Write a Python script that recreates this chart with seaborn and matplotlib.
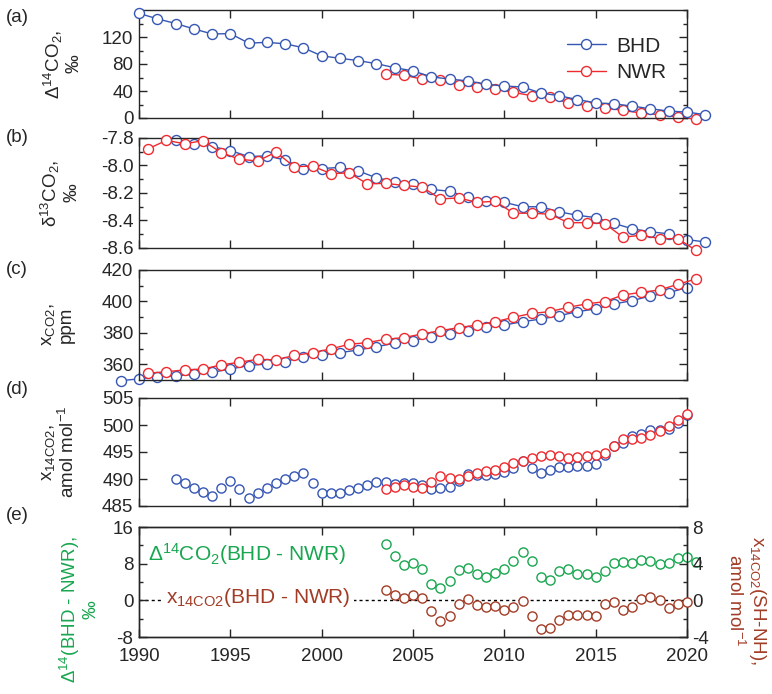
import numpy as np
import matplotlib
matplotlib.use("Agg")
import matplotlib.pyplot as plt
import seaborn as sns
from matplotlib.ticker import MultipleLocator

# ==============================================================================
# DATA
# ==============================================================================
# (a) D14CO2, permil
a_bhd_year = np.arange(1990, 2022)
a_bhd = [155, 147, 140, 132, 124.5, 125, 111, 112, 110, 104, 92, 88.5, 85, 80.5,
         74.5, 69.8, 61, 57.6, 55, 50, 47.3, 46, 37, 33, 27.3, 22.4, 21, 17.6,
         13.7, 10.2, 8.8, 4.9]
a_nwr_year = np.arange(2003.5, 2021.0, 1.0)
a_nwr = [64.9, 63.4, 57.6, 56, 49.3, 46.3, 42.9, 38, 33, 30.7, 22.4, 18.5, 15.1,
         11.2, 7.3, 4.9, 1.5, -2]

# (b) d13CO2, permil
b_bhd_year = np.arange(1992, 2022)
b_bhd = [-7.812, -7.842, -7.862, -7.891, -7.935, -7.93, -7.96, -8.022, -8.022,
         -8.014, -8.039, -8.09, -8.117, -8.137, -8.174, -8.187, -8.231, -8.256,
         -8.268, -8.3, -8.3, -8.337, -8.362, -8.379, -8.421, -8.46, -8.482,
         -8.497, -8.539, -8.556]
b_nwr_year = np.arange(1990.5, 2021.0, 1.0)
b_nwr = [-7.879, -7.817, -7.842, -7.82, -7.906, -7.955, -7.967, -7.903, -8.009,
         -8.004, -8.059, -8.054, -8.133, -8.13, -8.145, -8.157, -8.243, -8.236,
         -8.268, -8.26, -8.347, -8.347, -8.354, -8.416, -8.416, -8.423, -8.522,
         -8.507, -8.532, -8.532, -8.618]

# (c) xCO2, ppm
c_bhd_year = np.arange(1989, 2021)
c_bhd = [349.6, 350.7, 352.2, 352.6, 353.6, 354.9, 357.0, 359.2, 360.2, 361.7,
         364.9, 365.9, 367.4, 369.1, 371.2, 373.4, 375.1, 377.6, 379.3, 381.4,
         383.5, 385.0, 387.1, 388.8, 390.9, 393.5, 395.2, 398.4, 400.5, 403.5,
         405.6, 408.8]
c_nwr_year = np.arange(1990.5, 2021.0, 1.0)
c_nwr = [354.3, 355.3, 356.4, 357.0, 359.6, 361.3, 363.2, 362.8, 365.6, 367.4,
         369.8, 372.7, 373.8, 375.9, 377.0, 379.3, 381.4, 383.3, 385.0, 387.1,
         389.9, 392.4, 393.5, 396.3, 398.4, 399.9, 404.1, 405.8, 407.3, 410.9,
         414.3]

# (d) x14CO2, amol/mol (half-yearly)
d_bhd_year = np.arange(1992.0, 2020.25, 0.5)
d_bhd = [490.0, 489.2, 488.3, 487.6, 486.8, 488.3, 489.6, 488.1, 486.5, 487.4,
         488.4, 489.2, 490.0, 490.6, 491.2, 489.3, 487.5, 487.4, 487.4, 487.9,
         488.3, 488.9, 489.5, 489.4, 489.1, 489.2, 489.3, 488.9, 488.2, 488.4,
         488.6, 489.6, 491.0, 490.7, 490.7, 490.9, 491.3, 492.1, 493.3, 492.1,
         491.2, 491.6, 492.2, 492.3, 492.4, 492.5, 492.8, 494.4, 496.1, 496.7,
         497.9, 498.4, 499.0, 499.0, 499.2, 500.4, 501.8]
d_nwr_year = np.arange(2003.5, 2020.25, 0.5)
d_nwr = [488.2, 488.5, 488.8, 488.6, 488.3, 489.4, 490.5, 490.2, 490.0, 490.5,
         491.2, 491.4, 491.6, 492.2, 493.0, 493.4, 493.8, 494.2, 494.5, 494.2,
         493.8, 494.0, 494.2, 494.5, 494.8, 496.1, 497.4, 497.5, 497.6, 498.2,
         498.8, 499.9, 500.9, 502.0]

# (e) differences BHD - NWR
e_d14_year = np.arange(2003.5, 2020.75, 0.5)
e_d14 = [12.4, 9.7, 7.8, 8.2, 6.8, 3.5, 2.7, 4.3, 6.6, 7.0, 5.8, 5.0, 5.9, 6.9,
         8.5, 10.6, 8.6, 5.2, 4.4, 6.3, 6.9, 5.8, 5.8, 5.2, 6.3, 8.2, 8.3, 8.2,
         8.7, 8.6, 8.0, 8.1, 9.3, 9.5, 8.4]
e_x14_year = np.arange(2003.5, 2020.25, 0.5)
e_x14 = [1.1, 0.6, 0.3, 0.55, 0.3, -1.2, -2.2, -1.7, -0.37, 0.18, -0.52, -0.7,
         -0.63, -1.07, -0.74, -0.07, -1.66, -3.14, -3.03, -2.1, -1.55, -1.62,
         -1.62, -1.73, -0.44, -0.15, -1.1, -0.74, 0.11, 0.37, 0.0, -0.81, -0.44,
         -0.15]

# ==============================================================================
# STYLE
# ==============================================================================
BLUE = "#3556b3"
RED = "#ee2a2e"
GREEN = "#19a650"
BROWN = "#a23c26"
FS = 13.5

sns.set_style("ticks")
plt.rcParams.update({
    "xtick.direction": "in", "ytick.direction": "in",
    "xtick.major.size": 6, "ytick.major.size": 6,
    "xtick.minor.size": 3, "ytick.minor.size": 3,
    "xtick.major.width": 1.0, "ytick.major.width": 1.0,
    "xtick.minor.width": 1.0, "ytick.minor.width": 1.0,
    "axes.linewidth": 1.0,
    "axes.unicode_minus": False,
    "mathtext.fontset": "custom",
    "mathtext.rm": "Liberation Sans",
    "mathtext.it": "Liberation Sans:italic",
    "mathtext.bf": "Liberation Sans:bold",
})
plt.rcParams["font.family"] = ["Liberation Sans", "DejaVu Sans"]

fig = plt.figure(figsize=(7.72, 6.94), dpi=100)
W, H = 772.0, 694.0
left, width = 139 / W, 548 / W
# (top, bottom) pixel rows of each panel
rows = [(10, 118), (138, 248), (270, 380), (398, 506), (527, 637)]
axes = [fig.add_axes([left, 1 - b / H, width, (b - t) / H]) for t, b in rows]


def style_axis(ax, show_x=False):
    ax.set_xlim(1990, 2020)
    ax.xaxis.set_major_locator(MultipleLocator(5))
    ax.tick_params(which="both", top=True, right=True, labelsize=FS, pad=4)
    if not show_x:
        ax.tick_params(labelbottom=False)
    ax.set_xlabel("")
    ax.set_ylabel("")


line_kw = dict(marker="o", markersize=7.2, markerfacecolor="white",
               markeredgewidth=1.0, linewidth=1.0, clip_on=False,
               estimator=None, sort=False)
dot_kw = dict(marker="o", markersize=6.6, markerfacecolor="white",
              markeredgewidth=1.0, linestyle="none", clip_on=False,
              estimator=None, sort=False)

# (a)
ax = axes[0]
sns.lineplot(x=a_bhd_year, y=a_bhd, ax=ax, color=BLUE, markeredgecolor=BLUE,
             label="BHD", zorder=3, **line_kw)
sns.lineplot(x=a_nwr_year, y=a_nwr, ax=ax, color=RED, markeredgecolor=RED,
             label="NWR", zorder=2, **line_kw)
ax.set_ylim(0, 160)
ax.set_yticks([0, 40, 80, 120])
ax.yaxis.set_minor_locator(MultipleLocator(20))
style_axis(ax)
ax.legend(loc="upper left", bbox_to_anchor=(0.765, 0.83), frameon=False,
          fontsize=15, handlelength=1.9, handletextpad=0.5, labelspacing=0.35,
          borderaxespad=0)
ax.text(-0.14, 0.5, "Δ$^{14}$CO$_2$,\n‰", transform=ax.transAxes, rotation=90,
        ha="center", va="center", multialignment="center", fontsize=FS,
        linespacing=1.1)

# (b)
ax = axes[1]
sns.lineplot(x=b_bhd_year, y=b_bhd, ax=ax, color=BLUE, markeredgecolor=BLUE,
             zorder=2, **line_kw)
sns.lineplot(x=b_nwr_year, y=b_nwr, ax=ax, color=RED, markeredgecolor=RED,
             zorder=3, **line_kw)
ax.set_ylim(-8.6, -7.8)
ax.set_yticks([-8.6, -8.4, -8.2, -8.0, -7.8])
ax.yaxis.set_major_formatter(matplotlib.ticker.FormatStrFormatter("%.1f"))
ax.yaxis.set_minor_locator(MultipleLocator(0.1))
style_axis(ax)
ax.text(-0.144, 0.5, "δ$^{13}$CO$_2$,\n‰", transform=ax.transAxes, rotation=90,
        ha="center", va="center", multialignment="center", fontsize=FS,
        linespacing=1.1)

# (c)
ax = axes[2]
sns.lineplot(x=c_bhd_year, y=c_bhd, ax=ax, color=BLUE, markeredgecolor=BLUE,
             zorder=2, **line_kw)
sns.lineplot(x=c_nwr_year, y=c_nwr, ax=ax, color=RED, markeredgecolor=RED,
             zorder=3, **line_kw)
ax.set_ylim(350, 420)
ax.set_yticks([360, 380, 400, 420])
ax.yaxis.set_minor_locator(MultipleLocator(10))
style_axis(ax)
ax.text(-0.149, 0.5, "x$_{\\mathrm{CO2}}$,\nppm", transform=ax.transAxes,
        rotation=90, ha="center", va="center", multialignment="center",
        fontsize=FS, linespacing=1.1)

# (d)
ax = axes[3]
sns.lineplot(x=d_bhd_year, y=d_bhd, ax=ax, color=BLUE, markeredgecolor=BLUE,
             zorder=2, **dot_kw)
sns.lineplot(x=d_nwr_year, y=d_nwr, ax=ax, color=RED, markeredgecolor=RED,
             zorder=3, **dot_kw)
ax.set_ylim(485, 505)
ax.set_yticks([485, 490, 495, 500, 505])
style_axis(ax)
ax.text(-0.146, 0.5, "x$_{\\mathrm{14CO2}}$,\namol mol$^{\\mathrm{-1}}$",
        transform=ax.transAxes, rotation=90, ha="center", va="center",
        multialignment="center", fontsize=FS, linespacing=1.1)

# (e)
ax = axes[4]
ax2 = ax.twinx()
ax.axhline(0, color="black", linewidth=1.0, linestyle=(0, (2.2, 2.2)), zorder=0)
sns.lineplot(x=e_d14_year, y=e_d14, ax=ax, color=GREEN, markeredgecolor=GREEN,
             zorder=3, **dot_kw)
sns.lineplot(x=e_x14_year, y=e_x14, ax=ax2, color=BROWN, markeredgecolor=BROWN,
             zorder=3, **dot_kw)
ax.set_ylim(-8, 16)
ax.set_yticks([-8, 0, 8, 16])
ax.yaxis.set_minor_locator(MultipleLocator(4))
ax2.set_ylim(-4, 8)
ax2.set_yticks([-4, 0, 4, 8])
ax2.yaxis.set_minor_locator(MultipleLocator(2))
ax.set_xlim(1990, 2020)
ax.xaxis.set_major_locator(MultipleLocator(5))
ax.tick_params(which="both", top=True, right=False, labelsize=FS, pad=4)
ax.tick_params(axis="x", pad=8)
ax2.tick_params(which="both", right=True, labelsize=FS, pad=4)
ax.set_xlabel("")
ax.set_ylabel("")
ax2.set_ylabel("")

ax.text(1990.5, 10.2, "Δ$^{14}$CO$_2$(BHD - NWR)", color=GREEN, fontsize=15,
        ha="left", va="center")
ax.text(1991.5, 0.6, "x$_{\\mathrm{14CO2}}$(BHD - NWR)", color=BROWN, fontsize=15,
        ha="left", va="center",
        bbox=dict(boxstyle="square,pad=0.15", facecolor="white", edgecolor="none"))
ax.text(-0.11, 0.245, "Δ$^{14}$(BHD - NWR),\n‰", transform=ax.transAxes,
        rotation=90, ha="center", va="center", multialignment="center",
        fontsize=FS, color=GREEN, linespacing=1.1)
ax.text(1.109, 0.336, "x$_{\\mathrm{14CO2}}$(SH-NH),\namol mol$^{\\mathrm{-1}}$",
        transform=ax.transAxes, rotation=-90, ha="center", va="center",
        multialignment="center", fontsize=FS, color=BROWN, linespacing=1.1)

# panel letters
for letter, y_px in zip("abcde", [17, 138, 270, 390, 515]):
    fig.text(6 / W, 1 - y_px / H, f"({letter})", fontsize=FS, ha="left",
             va="center")

fig.savefig("out.png", dpi=100)
